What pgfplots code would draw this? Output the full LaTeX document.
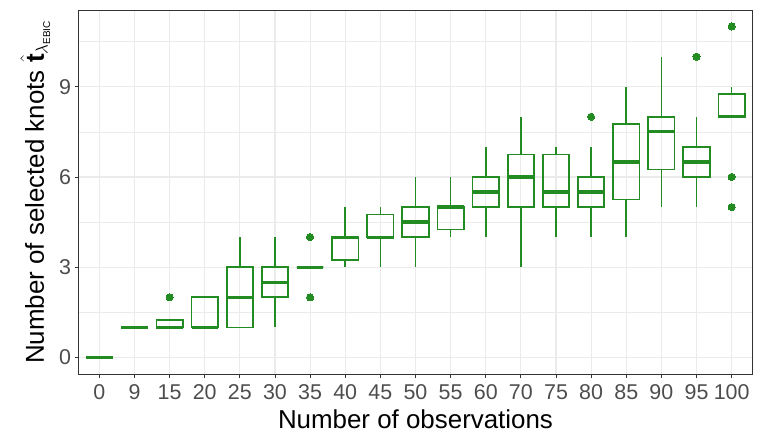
\documentclass[border=0pt]{standalone}
\usepackage{fontspec}
\setmainfont{Liberation Sans}
\usepackage{pgfplots}
\pgfplotsset{compat=1.18}
\usepgfplotslibrary{statistics}
\definecolor{grn}{HTML}{228B22}
\definecolor{gridc}{HTML}{EBEBEB}
\definecolor{framec}{HTML}{333333}
\definecolor{tickl}{HTML}{4D4D4D}
\pgfplotsset{gbox/.style={draw=grn, solid, line width=1.7bp, mark=*, mark size=3.6bp,
  mark options={fill=grn, draw=grn, line width=0pt},
  boxplot/draw direction=y,
  boxplot/box extend=0.75, boxplot/whisker extend=0,
  boxplot/every median/.style={line width=3.2bp}}}
\begin{document}
\begin{tikzpicture}
\begin{axis}[name=ax, at={(0,0)}, anchor=south west, scale only axis,
  width=674.4bp, height=364bp,
  xmin=-0.6, xmax=18.6, ymin=-0.55, ymax=11.55,
  xtick={0,...,18},
  xticklabels={0,9,15,20,25,30,35,40,45,50,55,60,70,75,80,85,90,95,100},
  ytick={0,3,6,9}, minor ytick={1.5,4.5,7.5,10.5},
  grid=both,
  major grid style={gridc, line width=1.1bp},
  minor grid style={gridc, line width=0.55bp},
  axis line style={framec, line width=0.8bp},
  tick style={framec, line width=0.8bp},
  tick align=outside, major tick length=3.7bp, minor tick length=0pt,
  xtick pos=lower, ytick pos=left,
  ticklabel style={font=\fontsize{21.5}{24}\selectfont, text=tickl},
  xticklabel style={inner xsep=0pt, yshift=-3.5bp},
  /pgf/number format/assume math mode=true,
  label style={font=\fontsize{26}{30}\selectfont},
  xlabel style={yshift=-3bp},
  ylabel style={yshift=2bp},
  xlabel={Number of observations},
  ylabel={Number of selected knots $\hat{\mbox{\bfseries t}}_{\lambda_{\mbox{\fontsize{10}{12}\selectfont EBIC}}}$},
]
% 0
\addplot[gbox, boxplot prepared={draw position=0, lower whisker=0, lower quartile=0, median=0, upper quartile=0, upper whisker=0}] coordinates {};
% 9
\addplot[gbox, boxplot prepared={draw position=1, lower whisker=1, lower quartile=1, median=1, upper quartile=1, upper whisker=1}] coordinates {};
% 15
\addplot[gbox, boxplot prepared={draw position=2, lower whisker=1, lower quartile=1, median=1, upper quartile=1.25, upper whisker=1.25}] table[row sep=\\, y index=0] {y\\ 2\\};
% 20
\addplot[gbox, boxplot prepared={draw position=3, lower whisker=1, lower quartile=1, median=1, upper quartile=2, upper whisker=2}] coordinates {};
% 25
\addplot[gbox, boxplot prepared={draw position=4, lower whisker=1, lower quartile=1, median=2, upper quartile=3, upper whisker=4}] coordinates {};
% 30
\addplot[gbox, boxplot prepared={draw position=5, lower whisker=1, lower quartile=2, median=2.5, upper quartile=3, upper whisker=4}] coordinates {};
% 35
\addplot[gbox, boxplot prepared={draw position=6, lower whisker=3, lower quartile=3, median=3, upper quartile=3, upper whisker=3}] table[row sep=\\, y index=0] {y\\ 4\\ 2\\};
% 40
\addplot[gbox, boxplot prepared={draw position=7, lower whisker=3, lower quartile=3.25, median=4, upper quartile=4, upper whisker=5}] coordinates {};
% 45
\addplot[gbox, boxplot prepared={draw position=8, lower whisker=3, lower quartile=4, median=4, upper quartile=4.75, upper whisker=5}] coordinates {};
% 50
\addplot[gbox, boxplot prepared={draw position=9, lower whisker=3, lower quartile=4, median=4.5, upper quartile=5, upper whisker=6}] coordinates {};
% 55
\addplot[gbox, boxplot prepared={draw position=10, lower whisker=4, lower quartile=4.25, median=5, upper quartile=5, upper whisker=6}] coordinates {};
% 60
\addplot[gbox, boxplot prepared={draw position=11, lower whisker=4, lower quartile=5, median=5.5, upper quartile=6, upper whisker=7}] coordinates {};
% 70
\addplot[gbox, boxplot prepared={draw position=12, lower whisker=3, lower quartile=5, median=6, upper quartile=6.75, upper whisker=8}] coordinates {};
% 75
\addplot[gbox, boxplot prepared={draw position=13, lower whisker=4, lower quartile=5, median=5.5, upper quartile=6.75, upper whisker=7}] coordinates {};
% 80
\addplot[gbox, boxplot prepared={draw position=14, lower whisker=4, lower quartile=5, median=5.5, upper quartile=6, upper whisker=7}] table[row sep=\\, y index=0] {y\\ 8\\};
% 85
\addplot[gbox, boxplot prepared={draw position=15, lower whisker=4, lower quartile=5.25, median=6.5, upper quartile=7.75, upper whisker=9}] coordinates {};
% 90
\addplot[gbox, boxplot prepared={draw position=16, lower whisker=5, lower quartile=6.25, median=7.5, upper quartile=8, upper whisker=10}] coordinates {};
% 95
\addplot[gbox, boxplot prepared={draw position=17, lower whisker=5, lower quartile=6, median=6.5, upper quartile=7, upper whisker=8}] table[row sep=\\, y index=0] {y\\ 10\\};
% 100
\addplot[gbox, boxplot prepared={draw position=18, lower whisker=8, lower quartile=8, median=8, upper quartile=8.75, upper whisker=9}] table[row sep=\\, y index=0] {y\\ 11\\ 6\\ 5\\};
\end{axis}
\pgfresetboundingbox
\path[use as bounding box] (-78.3bp,-71bp) rectangle (684.7bp,374bp);
\end{tikzpicture}
\end{document}
